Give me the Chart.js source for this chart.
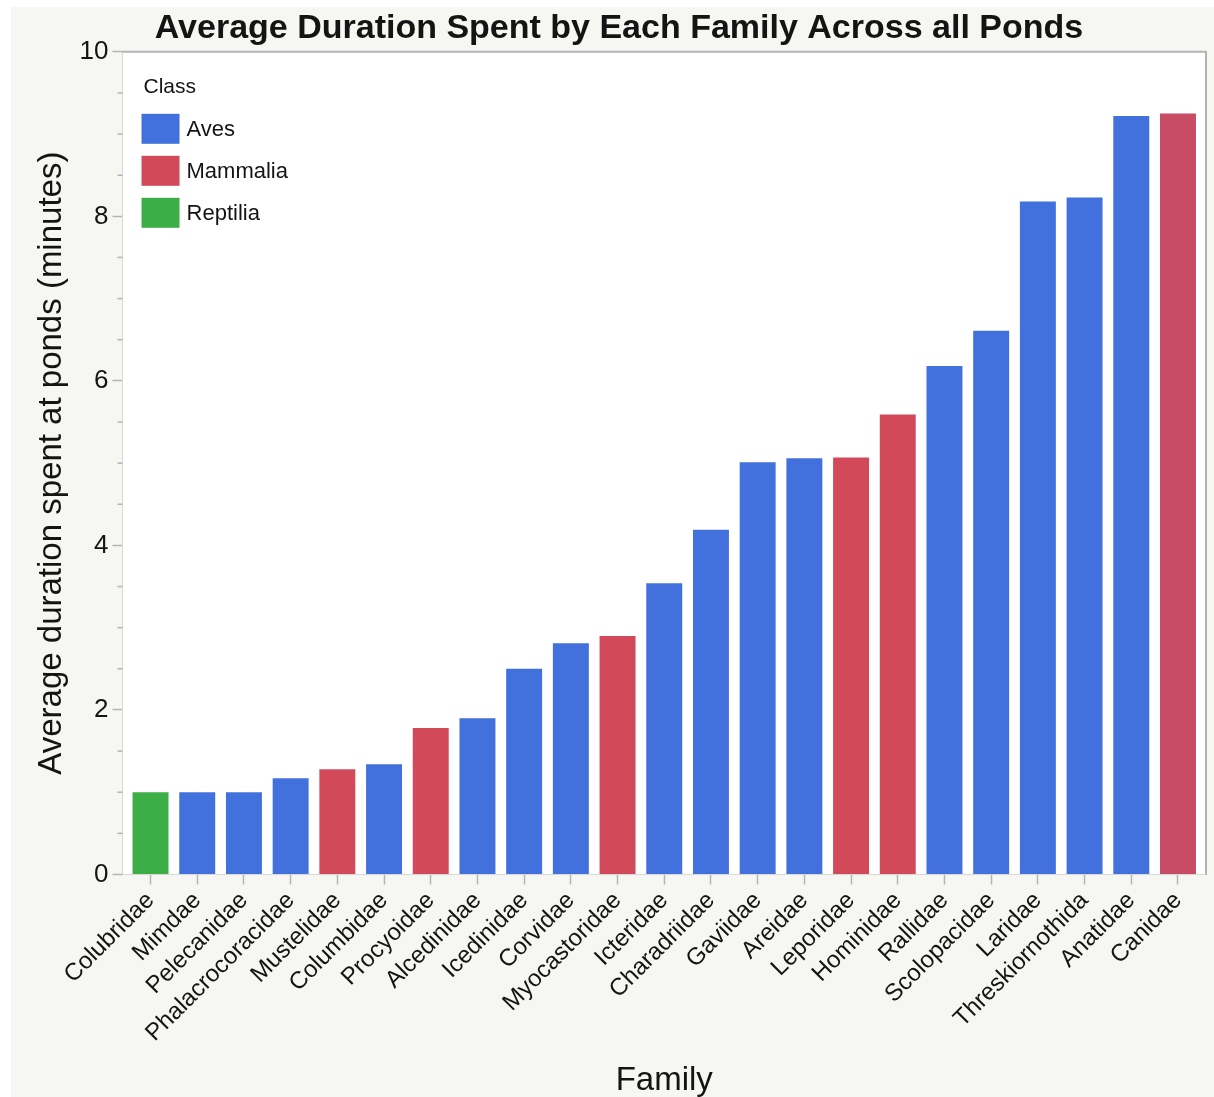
<!DOCTYPE html>
<html>
<head>
<meta charset="utf-8">
<script src="https://cdn.jsdelivr.net/npm/chart.js@4.4.0/dist/chart.umd.min.js"></script>
<style>
  html, body { margin: 0; padding: 0; background: #fff; }
  #wrap { position: absolute; left: 11px; top: 7px; width: 1203px; height: 1090px; background: #F6F6F2; }
</style>
</head>
<body>
<div id="wrap"><canvas id="chart"></canvas></div>
<script>
// Data
const families = ['Colubridae', 'Mimdae', 'Pelecanidae', 'Phalacrocoracidae', 'Mustelidae', 'Columbidae',
  'Procyoidae', 'Alcedinidae', 'Icedinidae', 'Corvidae', 'Myocastoridae', 'Icteridae', 'Charadriidae',
  'Gaviidae', 'Areidae', 'Leporidae', 'Hominidae', 'Rallidae', 'Scolopacidae', 'Laridae',
  'Threskiornothida', 'Anatidae', 'Canidae'];
const familyClass = ['Reptilia', 'Aves', 'Aves', 'Aves', 'Mammalia', 'Aves', 'Mammalia', 'Aves', 'Aves',
  'Aves', 'Mammalia', 'Aves', 'Aves', 'Aves', 'Aves', 'Mammalia', 'Mammalia', 'Aves', 'Aves', 'Aves',
  'Aves', 'Aves', 'Mammalia'];
const avgDuration = [1.0, 1.0, 1.0, 1.17, 1.28, 1.34, 1.78, 1.9, 2.5, 2.81, 2.9, 3.54, 4.19, 5.01, 5.06,
  5.07, 5.59, 6.18, 6.61, 8.18, 8.23, 9.22, 9.25];
const classNames = ['Aves', 'Mammalia', 'Reptilia'];
const yTicksMajor = [0, 2, 4, 6, 8, 10];

// Colours
const classColors = { Aves: '#4270DD', Mammalia: '#D24A5A', Reptilia: '#3DAE47' };
const AXIS_GREY = '#B4B4B4';
const TEXT = '#141414';
const FONT = 'Liberation Sans, Arial, sans-serif';

// Canidae shows a slightly pinker red in the picture
const barColors = familyClass.map((c, i) => families[i] === 'Canidae' ? '#C84C66' : classColors[c]);

// small gap between frame and first/last bar
const EDGE = 0.1;

// Plot background + frame
const framePlugin = {
  id: 'frame',
  beforeDatasetsDraw(chart) {
    const { ctx, chartArea: a } = chart;
    ctx.save();
    ctx.fillStyle = '#FFFFFF';
    ctx.fillRect(a.left, a.top, a.right - a.left, a.bottom - a.top);
    ctx.restore();
  },
  afterDraw(chart) {
    const { ctx, chartArea: a } = chart;
    ctx.save();
    ctx.strokeStyle = AXIS_GREY;
    ctx.lineWidth = 2;
    ctx.beginPath();
    ctx.moveTo(a.left, a.top);
    ctx.lineTo(a.right, a.top);
    ctx.lineTo(a.right, a.bottom);
    ctx.stroke();

    // minor ticks on the y axis
    const y = chart.scales.y;
    ctx.lineWidth = 1.5;
    y.ticks.forEach(t => {
      if (yTicksMajor.includes(t.value)) return;
      const py = y.getPixelForValue(t.value);
      ctx.beginPath();
      ctx.moveTo(a.left - 5, py);
      ctx.lineTo(a.left, py);
      ctx.stroke();
    });
    ctx.restore();
  }
};

// Legend inside the plot, top left
const classLegend = {
  id: 'classLegend',
  afterDraw(chart) {
    const { ctx, chartArea: a } = chart;
    const x0 = a.left + 19;
    ctx.save();
    ctx.fillStyle = TEXT;
    ctx.textBaseline = 'middle';
    ctx.font = '21px ' + FONT;
    ctx.fillText('Class', x0 + 2, a.top + 35);
    ctx.font = '22px ' + FONT;
    classNames.forEach((name, i) => {
      const top = a.top + 62 + i * 42;
      ctx.fillStyle = classColors[name];
      ctx.fillRect(x0, top, 38, 30);
      ctx.fillStyle = TEXT;
      ctx.fillText(name, x0 + 45, top + 16);
    });
    ctx.restore();
  }
};

const data = {
  labels: families,
  datasets: [{
    data: avgDuration,
    backgroundColor: barColors,
    borderWidth: 0,
    barPercentage: 0.77,
    categoryPercentage: 1.0
  }]
};

const config = {
  type: 'bar',
  data,
  options: {
    responsive: true,
    maintainAspectRatio: false,
    animation: false,
    layout: { padding: { left: 21, right: 8, top: 0, bottom: 0 } },
    plugins: {
      legend: { display: false },
      tooltip: { enabled: false },
      title: {
        display: true,
        text: 'Average Duration Spent by Each Family Across all Ponds',
        color: TEXT,
        font: { family: FONT, size: 34, weight: 'bold' },
        padding: { top: 1, bottom: 3 }
      }
    },
    scales: {
      x: {
        offset: true,
        afterBuildTicks(scale) {
          scale._startValue -= EDGE;
          scale._valueRange += 2 * EDGE;
        },
        grid: { drawOnChartArea: false, offset: false, tickLength: 10, tickColor: AXIS_GREY, tickWidth: 1.5 },
        border: { color: AXIS_GREY, width: 2 },
        ticks: {
          color: TEXT,
          font: { family: FONT, size: 24 },
          minRotation: 45,
          maxRotation: 45,
          autoSkip: false,
          padding: 2
        },
        title: {
          display: true,
          text: 'Family',
          color: TEXT,
          font: { family: FONT, size: 33 },
          padding: { top: 12, bottom: -4 }
        }
      },
      y: {
        min: 0,
        max: 10,
        grid: {
          drawOnChartArea: false,
          tickLength: 10,
          tickWidth: 1.5,
          tickColor: ctx => yTicksMajor.includes(ctx.tick.value) ? AXIS_GREY : 'rgba(0,0,0,0)'
        },
        border: { color: AXIS_GREY, width: 2 },
        ticks: {
          stepSize: 0.5,
          autoSkip: false,
          color: TEXT,
          font: { family: FONT, size: 26 },
          padding: 4,
          callback: v => yTicksMajor.includes(v) ? v : ''
        },
        title: {
          display: true,
          text: 'Average duration spent at ponds (minutes)',
          color: TEXT,
          font: { family: FONT, size: 33 },
          padding: { top: 0, bottom: 4 }
        }
      }
    }
  },
  plugins: [framePlugin, classLegend]
};

// Render
const FAMILY_CHART = new Chart(document.getElementById('chart'), config);
</script>
</body>
</html>
